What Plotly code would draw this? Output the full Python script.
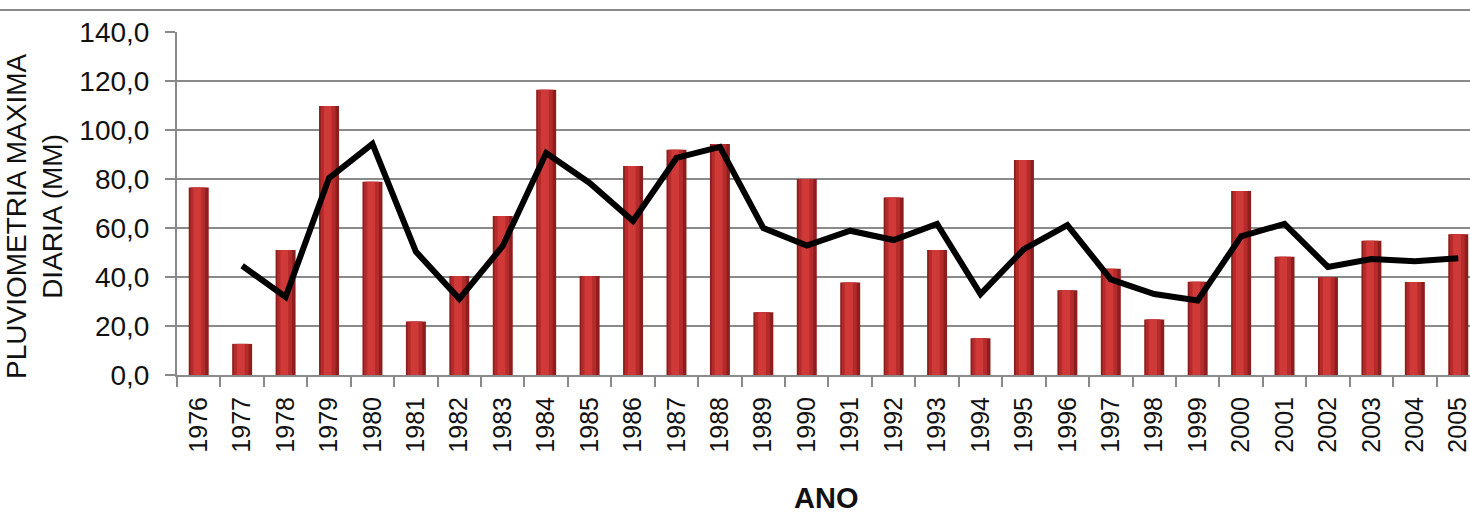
import pandas as pd
import plotly.graph_objects as go

# Annual maximum daily rainfall (mm)
anos = [str(a) for a in range(1976, 2006)]
pluviometria = [76.5, 12.7, 51.0, 109.8, 78.9, 21.8, 40.4, 64.9, 116.4, 40.4,
                85.3, 91.9, 94.3, 25.6, 80.0, 37.8, 72.4, 51.0, 15.0, 87.8,
                34.6, 43.4, 22.7, 38.1, 75.1, 48.3, 39.9, 54.8, 38.0, 57.4]
y_ticks = [0, 20, 40, 60, 80, 100, 120, 140]

# 2-period moving average trend line
media_movel = pd.Series(pluviometria).rolling(2).mean().tolist()

W, H = 1470, 519
L, R, T, B = 177, 0, 32, 144

fig = go.Figure()

# Layered bars give a shaded, cylinder-like look
for width, color, offset in [(0.46, "#8e1e1e", 0.0),
                             (0.34, "#b52a2a", -0.02),
                             (0.18, "#cf3a38", -0.03)]:
    fig.add_trace(go.Bar(
        x=anos, y=pluviometria, width=width, offset=-width / 2 + offset,
        marker=dict(color=color, line=dict(width=0)),
        hoverinfo="skip" if width < 0.46 else None, showlegend=False))

fig.add_trace(go.Scatter(
    x=anos, y=media_movel, mode="lines",
    line=dict(color="#000000", width=6), showlegend=False))

fig.update_layout(
    width=W, height=H,
    margin=dict(l=L, r=R, t=T, b=B, pad=0),
    paper_bgcolor="white", plot_bgcolor="white",
    barmode="overlay", separators=",.",
    font=dict(family="Liberation Sans, Arial, sans-serif", color="#111111"),
    xaxis=dict(
        type="category", range=[-0.5, 29.27],
        tickson="boundaries", ticks="outside", ticklen=10, tickcolor="#8a8a8a",
        tickwidth=2, tickangle=-90, tickfont=dict(size=25, color="#111111"),
        showline=True, linecolor="#8a8a8a", linewidth=2, showgrid=False,
        ticklabelstandoff=10,
    ),
    yaxis=dict(
        range=[0, 140], tickvals=y_ticks, tickformat=".1f",
        ticks="outside", ticklen=10, tickcolor="#8a8a8a", tickwidth=2,
        tickfont=dict(size=28, color="#111111"),
        showline=True, linecolor="#8a8a8a", linewidth=2,
        showgrid=True, gridcolor="#8a8a8a", gridwidth=2, zeroline=False,
        ticklabelstandoff=10,
    ),
    annotations=[
        dict(text="PLUVIOMETRIA MAXIMA<br>DIARIA (MM)", textangle=-90,
             xref="paper", yref="paper",
             x=(34 - L) / (W - L - R), y=1 - (217 - T) / (H - T - B),
             xanchor="center", yanchor="middle", showarrow=False,
             font=dict(size=28, color="#111111")),
        dict(text="<b>ANO</b>", xref="paper", yref="paper",
             x=(826 - L) / (W - L - R), y=-(498 - (H - B)) / (H - T - B),
             xanchor="center", yanchor="middle", showarrow=False,
             font=dict(size=29, color="#111111")),
    ],
    shapes=[dict(type="line", xref="paper", yref="paper",
                 x0=-L / (W - L - R), x1=1,
                 y0=1 + (T - 10) / (H - T - B), y1=1 + (T - 10) / (H - T - B),
                 line=dict(color="#8a8a8a", width=2))],
)

fig.write_html("out.html")
